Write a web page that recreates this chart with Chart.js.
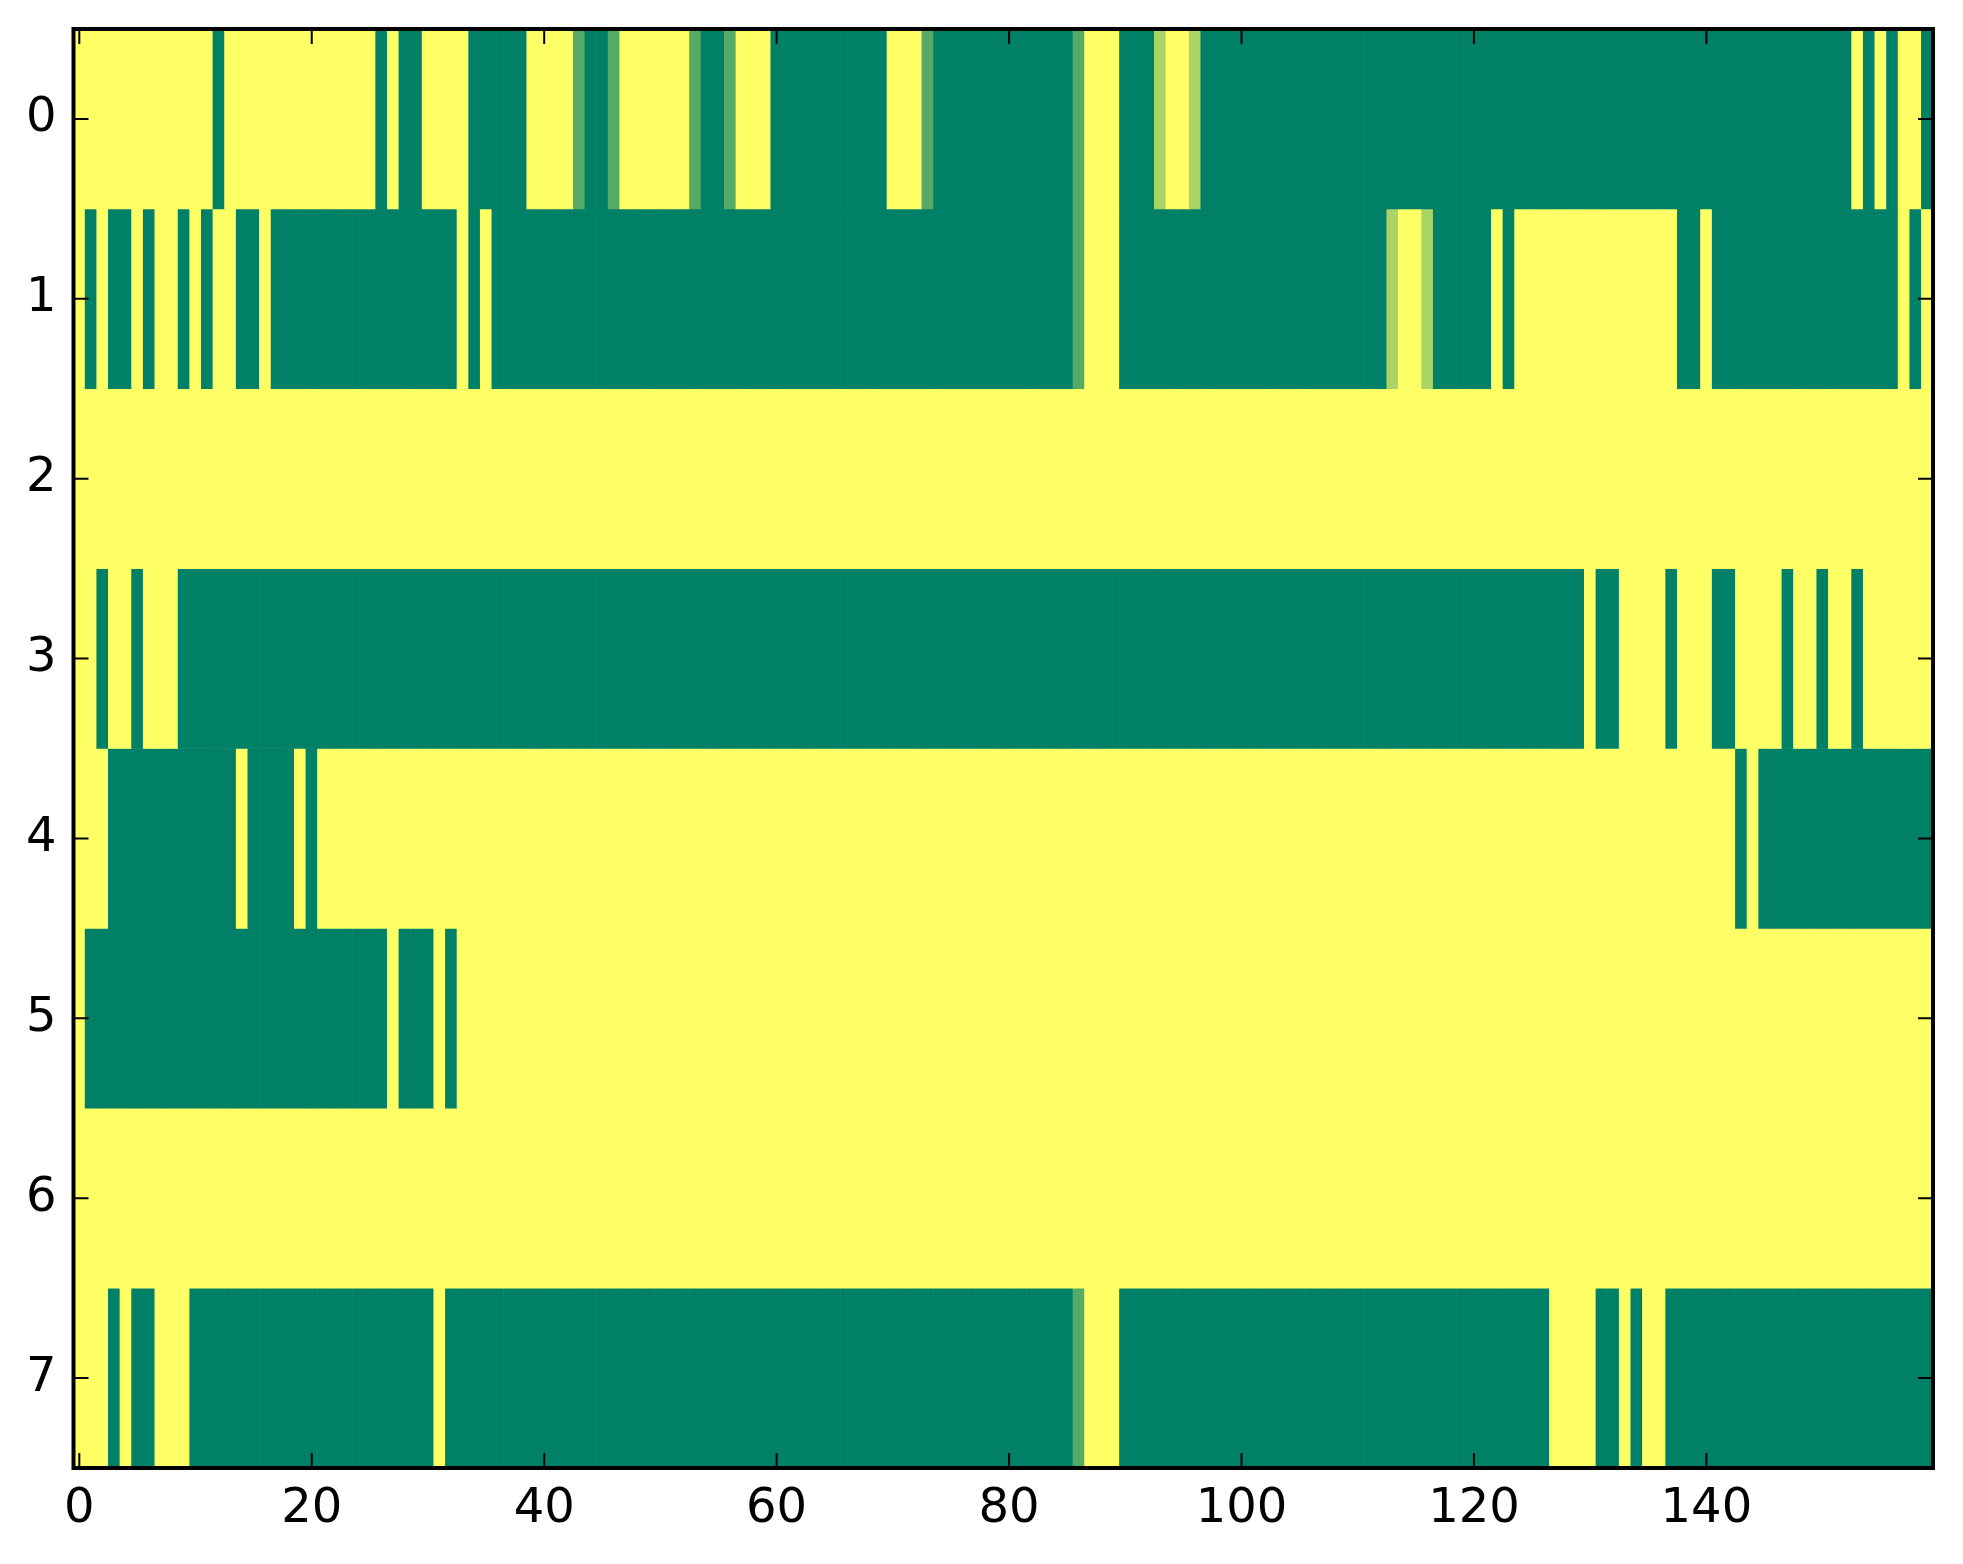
<!DOCTYPE html>
<html>
<head>
<meta charset="utf-8">
<title>heatmap</title>
<script src="https://cdn.jsdelivr.net/npm/chart.js@4.4.1/dist/chart.umd.min.js"></script>
<style>
  html, body { margin: 0; padding: 0; background: #fff; }
  canvas { display: block; }
</style>
</head>
<body>
<canvas id="heat" width="1963" height="1564"></canvas>
<script>
// cell values 0..3 (0 = green, 3 = yellow), 160 columns per row
const row0 = [
  3,3,3,3,3,3,3,3,3,3, 3,3,0,3,3,3,3,3,3,3,
  3,3,3,3,3,3,0,3,0,0, 3,3,3,3,0,0,0,0,0,3,
  3,3,3,1,0,0,1,3,3,3, 3,3,3,1,0,0,1,3,3,3,
  0,0,0,0,0,0,0,0,0,0, 3,3,3,1,0,0,0,0,0,0,
  0,0,0,0,0,0,1,3,3,3, 0,0,0,2,3,3,2,0,0,0,
  0,0,0,0,0,0,0,0,0,0, 0,0,0,0,0,0,0,0,0,0,
  0,0,0,0,0,0,0,0,0,0, 0,0,0,0,0,0,0,0,0,0,
  0,0,0,0,0,0,0,0,0,0, 0,0,0,3,0,3,0,3,3,0
]
const row1 = [
  3,0,3,0,0,3,0,3,3,0, 3,0,3,3,0,0,3,0,0,0,
  0,0,0,0,0,0,0,0,0,0, 0,0,0,3,0,3,0,0,0,0,
  0,0,0,0,0,0,0,0,0,0, 0,0,0,0,0,0,0,0,0,0,
  0,0,0,0,0,0,0,0,0,0, 0,0,0,0,0,0,0,0,0,0,
  0,0,0,0,0,0,1,3,3,3, 0,0,0,0,0,0,0,0,0,0,
  0,0,0,0,0,0,0,0,0,0, 0,0,0,2,3,3,2,0,0,0,
  0,0,3,0,3,3,3,3,3,3, 3,3,3,3,3,3,3,3,0,0,
  3,0,0,0,0,0,0,0,0,0, 0,0,0,0,0,0,0,3,0,3
]
const row2 = [
  3,3,3,3,3,3,3,3,3,3, 3,3,3,3,3,3,3,3,3,3,
  3,3,3,3,3,3,3,3,3,3, 3,3,3,3,3,3,3,3,3,3,
  3,3,3,3,3,3,3,3,3,3, 3,3,3,3,3,3,3,3,3,3,
  3,3,3,3,3,3,3,3,3,3, 3,3,3,3,3,3,3,3,3,3,
  3,3,3,3,3,3,3,3,3,3, 3,3,3,3,3,3,3,3,3,3,
  3,3,3,3,3,3,3,3,3,3, 3,3,3,3,3,3,3,3,3,3,
  3,3,3,3,3,3,3,3,3,3, 3,3,3,3,3,3,3,3,3,3,
  3,3,3,3,3,3,3,3,3,3, 3,3,3,3,3,3,3,3,3,3
]
const row3 = [
  3,3,0,3,3,0,3,3,3,0, 0,0,0,0,0,0,0,0,0,0,
  0,0,0,0,0,0,0,0,0,0, 0,0,0,0,0,0,0,0,0,0,
  0,0,0,0,0,0,0,0,0,0, 0,0,0,0,0,0,0,0,0,0,
  0,0,0,0,0,0,0,0,0,0, 0,0,0,0,0,0,0,0,0,0,
  0,0,0,0,0,0,0,0,0,0, 0,0,0,0,0,0,0,0,0,0,
  0,0,0,0,0,0,0,0,0,0, 0,0,0,0,0,0,0,0,0,0,
  0,0,0,0,0,0,0,0,0,0, 3,0,0,3,3,3,3,0,3,3,
  3,0,0,3,3,3,3,0,3,3, 0,3,3,0,3,3,3,3,3,3
]
const row4 = [
  3,3,3,0,0,0,0,0,0,0, 0,0,0,0,3,0,0,0,0,3,
  0,3,3,3,3,3,3,3,3,3, 3,3,3,3,3,3,3,3,3,3,
  3,3,3,3,3,3,3,3,3,3, 3,3,3,3,3,3,3,3,3,3,
  3,3,3,3,3,3,3,3,3,3, 3,3,3,3,3,3,3,3,3,3,
  3,3,3,3,3,3,3,3,3,3, 3,3,3,3,3,3,3,3,3,3,
  3,3,3,3,3,3,3,3,3,3, 3,3,3,3,3,3,3,3,3,3,
  3,3,3,3,3,3,3,3,3,3, 3,3,3,3,3,3,3,3,3,3,
  3,3,3,0,3,0,0,0,0,0, 0,0,0,0,0,0,0,0,0,0
]
const row5 = [
  3,0,0,0,0,0,0,0,0,0, 0,0,0,0,0,0,0,0,0,0,
  0,0,0,0,0,0,0,3,0,0, 0,3,0,3,3,3,3,3,3,3,
  3,3,3,3,3,3,3,3,3,3, 3,3,3,3,3,3,3,3,3,3,
  3,3,3,3,3,3,3,3,3,3, 3,3,3,3,3,3,3,3,3,3,
  3,3,3,3,3,3,3,3,3,3, 3,3,3,3,3,3,3,3,3,3,
  3,3,3,3,3,3,3,3,3,3, 3,3,3,3,3,3,3,3,3,3,
  3,3,3,3,3,3,3,3,3,3, 3,3,3,3,3,3,3,3,3,3,
  3,3,3,3,3,3,3,3,3,3, 3,3,3,3,3,3,3,3,3,3
]
const row6 = [
  3,3,3,3,3,3,3,3,3,3, 3,3,3,3,3,3,3,3,3,3,
  3,3,3,3,3,3,3,3,3,3, 3,3,3,3,3,3,3,3,3,3,
  3,3,3,3,3,3,3,3,3,3, 3,3,3,3,3,3,3,3,3,3,
  3,3,3,3,3,3,3,3,3,3, 3,3,3,3,3,3,3,3,3,3,
  3,3,3,3,3,3,3,3,3,3, 3,3,3,3,3,3,3,3,3,3,
  3,3,3,3,3,3,3,3,3,3, 3,3,3,3,3,3,3,3,3,3,
  3,3,3,3,3,3,3,3,3,3, 3,3,3,3,3,3,3,3,3,3,
  3,3,3,3,3,3,3,3,3,3, 3,3,3,3,3,3,3,3,3,3
]
const row7 = [
  3,3,3,0,3,0,0,3,3,3, 0,0,0,0,0,0,0,0,0,0,
  0,0,0,0,0,0,0,0,0,0, 0,3,0,0,0,0,0,0,0,0,
  0,0,0,0,0,0,0,0,0,0, 0,0,0,0,0,0,0,0,0,0,
  0,0,0,0,0,0,0,0,0,0, 0,0,0,0,0,0,0,0,0,0,
  0,0,0,0,0,0,1,3,3,3, 0,0,0,0,0,0,0,0,0,0,
  0,0,0,0,0,0,0,0,0,0, 0,0,0,0,0,0,0,0,0,0,
  0,0,0,0,0,0,0,3,3,3, 3,0,0,3,0,3,3,0,0,0,
  0,0,0,0,0,0,0,0,0,0, 0,0,0,0,0,0,0,0,0,0
]
const rows = [row0, row1, row2, row3, row4, row5, row6, row7]
const xTickValues = [0, 20, 40, 60, 80, 100, 120, 140]
const yTickValues = [0, 1, 2, 3, 4, 5, 6, 7]
const vmax = 3

// matplotlib "summer": green (0,.5,.4) -> yellow (1,1,.4)
const summer = t => `rgb(${Math.round(255 * t)},${Math.round(255 * (0.5 + 0.5 * t))},102)`

const datasets = rows.map((vals, r) => ({
  label: `row ${r}`,
  data: vals.map((v, c) => ({ x: c, y: [r - 0.5, r + 0.5] })),
  backgroundColor: vals.map(v => summer(v / vmax)),
  borderWidth: 0,
  barPercentage: 1,
  categoryPercentage: 1,
  grouped: false
}))

// frame + inward ticks on all four sides, like the classic matplotlib look
const frame = {
  id: 'frame',
  afterDatasetsDraw(chart) {
    const { ctx, chartArea: a, scales: { x, y } } = chart
    const len = 15
    ctx.save()
    ctx.strokeStyle = '#000'
    ctx.lineWidth = 2
    ctx.beginPath()
    xTickValues.forEach(v => {
      const px = x.getPixelForValue(v)
      ctx.moveTo(px, a.bottom); ctx.lineTo(px, a.bottom - len)
      ctx.moveTo(px, a.top); ctx.lineTo(px, a.top + len)
    })
    yTickValues.forEach(v => {
      const py = y.getPixelForValue(v)
      ctx.moveTo(a.left, py); ctx.lineTo(a.left + len, py)
      ctx.moveTo(a.right, py); ctx.lineTo(a.right - len, py)
    })
    ctx.stroke()
    ctx.lineWidth = 4
    ctx.strokeRect(a.left, a.top, a.right - a.left, a.bottom - a.top)
    ctx.restore()
  }
}

const tickFont = { family: 'DejaVu Sans', size: 48 }

new Chart(document.getElementById('heat').getContext('2d'), {
  type: 'bar',
  data: { datasets },
  options: {
    responsive: false,
    devicePixelRatio: 1,
    animation: false,
    events: [],
    layout: { padding: { top: 29, right: 30, left: 0, bottom: 0 } },
    plugins: {
      legend: { display: false },
      tooltip: { enabled: false }
    },
    scales: {
      x: {
        type: 'linear',
        min: -0.5,
        max: 159.5,
        offset: false,
        grid: { display: false, drawTicks: false },
        border: { display: false },
        ticks: { font: tickFont, color: '#000', padding: 13, maxRotation: 0, autoSkip: false, callback: v => String(v) },
        afterBuildTicks: s => { s.ticks = xTickValues.map(v => ({ value: v })) },
        afterFit: s => { s.height = 96; s.paddingLeft = 0; s.paddingRight = 0 }
      },
      y: {
        type: 'linear',
        reverse: true,
        min: -0.5,
        max: 7.5,
        offset: false,
        grid: { display: false, drawTicks: false },
        border: { display: false },
        ticks: { font: tickFont, color: '#000', padding: 17, autoSkip: false, callback: v => String(v) },
        afterBuildTicks: s => { s.ticks = yTickValues.map(v => ({ value: v })) },
        afterFit: s => { s.width = 73.5; s.paddingTop = 0; s.paddingBottom = 0 }
      }
    }
  },
  plugins: [frame]
})
</script>
</body>
</html>
